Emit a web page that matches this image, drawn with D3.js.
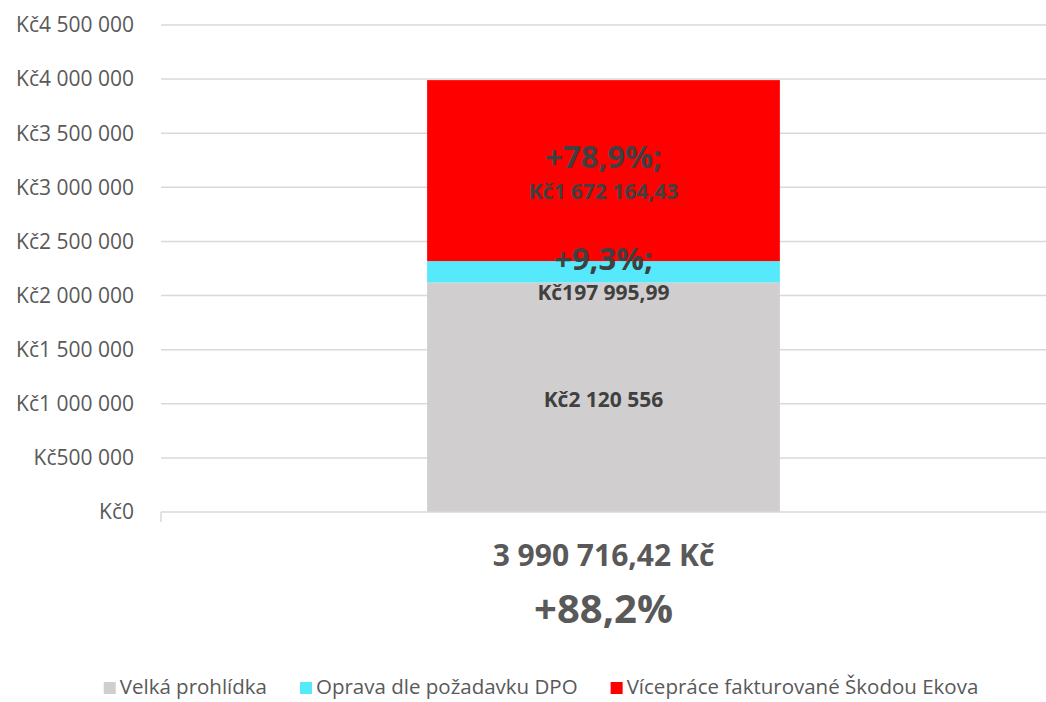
<!DOCTYPE html>
<html>
<head>
<meta charset="utf-8">
<script src="https://cdn.jsdelivr.net/npm/d3@7"></script>
<style>
  body { margin: 0; background: #fff; }
  svg { display: block; font-family: "Open Sans", "Noto Sans", sans-serif; }
</style>
</head>
<body>
<svg id="chart" width="1046" height="702"></svg>
<script>
// chart data
const categories = ['3 990 716,42 Kč'];
const categorySubLabels = ['+88,2%'];
const seriesNames = ['Velká prohlídka', 'Oprava dle požadavku DPO', 'Vícepráce fakturované Škodou Ekova'];
const seriesValues = [2120556, 197995.99, 1672164.43];
const seriesValueLabels = ['Kč2 120 556', 'Kč197 995,99', 'Kč1 672 164,43'];
const seriesPctLabels = ['', '+9,3%;', '+78,9%;'];
const seriesColors = ['#d0cece', '#55e9fb', '#ff0000'];
const yTicks = [0, 500000, 1000000, 1500000, 2000000, 2500000, 3000000, 3500000, 4000000, 4500000];

const svg = d3.select('#chart');

const x = d3.scaleBand()
  .domain(categories)
  .range([161, 1046])
  .paddingInner(0.43)
  .paddingOuter(0.43);

const y = d3.scaleLinear()
  .domain([0, 4500000])
  .range([512, 25]);

// format 4500000 -> "Kč4 500 000"
const fmt = v => 'Kč' + d3.format(',')(v).replace(/,/g, ' ');

// gridlines
svg.append('g')
  .selectAll('line')
  .data(yTicks.slice(1))
  .join('line')
  .attr('x1', 161)
  .attr('x2', 1046)
  .attr('y1', d => y(d))
  .attr('y2', d => y(d))
  .attr('stroke', '#d9d9d9')
  .attr('stroke-width', 1.5);

// y tick labels
svg.append('g')
  .selectAll('text')
  .data(yTicks)
  .join('text')
  .attr('x', 134)
  .attr('y', d => y(d))
  .attr('dy', '0.35em')
  .attr('text-anchor', 'end')
  .attr('fill', '#595959')
  .style('font-size', '21px')
  .text(fmt);

// stacked segments
const stacked = [];
let acc = 0;
seriesValues.forEach((v, i) => {
  stacked.push({ i, y0: acc, y1: acc + v });
  acc += v;
});

categories.forEach(cat => {
  const g = svg.append('g');
  g.selectAll('rect')
    .data(stacked)
    .join('rect')
    .attr('x', x(cat))
    .attr('width', x.bandwidth())
    .attr('y', d => y(d.y1))
    .attr('height', d => y(d.y0) - y(d.y1))
    .attr('fill', d => seriesColors[d.i]);

  const cx = x(cat) + x.bandwidth() / 2;
  stacked.forEach(d => {
    const mid = (y(d.y0) + y(d.y1)) / 2;
    if (seriesPctLabels[d.i]) {
      g.append('text')
        .attr('x', cx)
        .attr('y', mid - 13)
        .attr('dy', '0.35em')
        .attr('text-anchor', 'middle')
        .attr('fill', '#404040')
        .style('font-size', '31px')
        .style('font-weight', 'bold')
        .text(seriesPctLabels[d.i]);
      g.append('text')
        .attr('x', cx)
        .attr('y', mid + 21)
        .attr('dy', '0.35em')
        .attr('text-anchor', 'middle')
        .attr('fill', '#404040')
        .style('font-size', '21px')
        .style('font-weight', 'bold')
        .text(seriesValueLabels[d.i]);
    } else {
      g.append('text')
        .attr('x', cx)
        .attr('y', mid + 2)
        .attr('dy', '0.35em')
        .attr('text-anchor', 'middle')
        .attr('fill', '#404040')
        .style('font-size', '21px')
        .style('font-weight', 'bold')
        .text(seriesValueLabels[d.i]);
    }
  });
});

// category axis line + end tick
svg.append('line')
  .attr('x1', 161).attr('x2', 1046)
  .attr('y1', y(0)).attr('y2', y(0))
  .attr('stroke', '#d9d9d9').attr('stroke-width', 1.5);
svg.append('line')
  .attr('x1', 161).attr('x2', 161)
  .attr('y1', y(0)).attr('y2', y(0) + 10)
  .attr('stroke', '#d9d9d9').attr('stroke-width', 1.5);

// category labels
categories.forEach((cat, i) => {
  const cx = x(cat) + x.bandwidth() / 2;
  svg.append('text')
    .attr('x', cx).attr('y', 555).attr('dy', '0.35em')
    .attr('text-anchor', 'middle')
    .attr('fill', '#595959')
    .style('font-size', '30px').style('font-weight', 'bold')
    .text(cat);
  svg.append('text')
    .attr('x', cx).attr('y', 609).attr('dy', '0.35em')
    .attr('text-anchor', 'middle')
    .attr('fill', '#595959')
    .style('font-size', '40px').style('font-weight', 'bold')
    .text(categorySubLabels[i]);
});

// legend, centered
const legend = svg.append('g');
const items = legend.selectAll('g')
  .data(seriesNames)
  .join('g');
items.append('rect')
  .attr('width', 12).attr('height', 12)
  .attr('y', -5)
  .attr('fill', (d, i) => seriesColors[i]);
items.append('text')
  .attr('x', 16)
  .attr('dy', '0.35em')
  .attr('fill', '#595959')
  .style('font-size', '20.5px')
  .text(d => d);

let lx = 0;
const gap = 33;
items.each(function() {
  const w = this.getBBox().width;
  d3.select(this).attr('transform', `translate(${lx},0)`);
  lx += w + gap;
});
const legendWidth = lx - gap;
legend.attr('transform', `translate(${541 - legendWidth / 2},687)`);
</script>
</body>
</html>
